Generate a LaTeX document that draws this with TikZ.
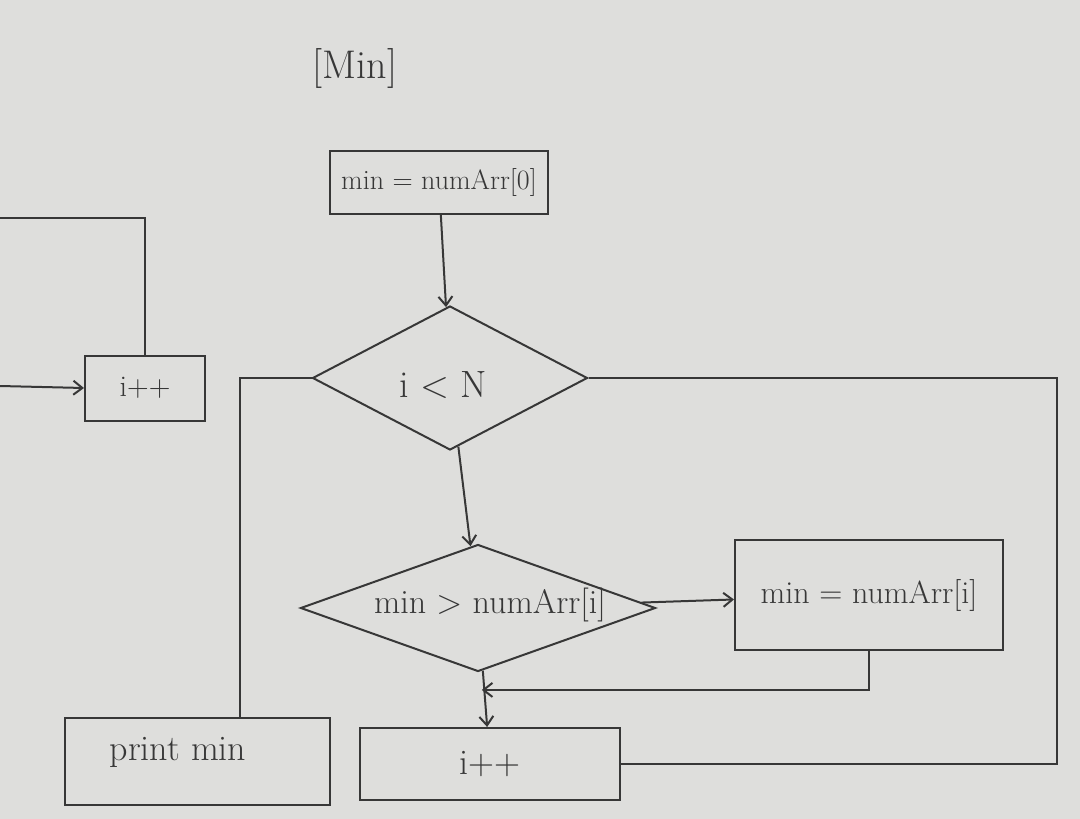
\documentclass[tikz,border=0pt]{standalone}
\usetikzlibrary{shapes.geometric,arrows.meta,calc}
\definecolor{paper}{RGB}{222,222,220}
\definecolor{ink}{RGB}{55,55,55}
\newcommand\myfs[1]{\fontsize{#1}{#1}\selectfont}
\begin{document}
\begin{tikzpicture}[x=1pt,y=-1pt,
  inkline/.style={draw=ink, line width=2pt},
  box/.style={inkline, rectangle, inner sep=0pt, text=ink},
  dia/.style={inkline, diamond, inner sep=0pt},
  lbl/.style={inner sep=0pt, text=ink},
  arr/.style={inkline, -{Straight Barb[length=9pt,width=14pt]}},
  conn/.style={inkline}]
\fill[paper] (0,0) rectangle (1080,819);
\useasboundingbox (0,0) rectangle (1080,819);

\node[lbl, font=\myfs{40}] (title) at (355,68) {[Min]};
\node[box, minimum width=218pt, minimum height=63pt, font=\myfs{28}] (init) at (439,182) {min = numArr[0]};
\node[dia, minimum width=275pt, minimum height=144pt] (cond) at (450,378) {};
\node[lbl, font=\myfs{38}] (condt) at (443,385) {i < N};
\node[dia, minimum width=355pt, minimum height=127pt] (cmp) at (478,608) {};
\node[lbl, font=\myfs{34}] (cmpt) at (490,605) {min > numArr[i]};
\node[box, minimum width=268pt, minimum height=110pt, font=\myfs{32}] (upd) at (869,595) {min = numArr[i]};
\node[box, minimum width=260pt, minimum height=72pt, font=\myfs{36}] (inc) at (490,764) {i++};
\node[box, minimum width=265pt, minimum height=87pt] (prt) at (197,761) {};
\node[lbl, font=\myfs{36}] (prtt) at (178,752) {print min};
\node[box, minimum width=120pt, minimum height=65pt, font=\myfs{30}] (inc2) at (145,388) {i++};

\coordinate (j) at ($(cmp.south)!0.32!(inc.north)$);
\coordinate (rx) at (1057,0);
\coordinate (lx) at (240,0);
\coordinate (ein) at (0,386);
\coordinate (eout) at (0,218);

\draw[arr] (init) -- (cond);
\draw[arr] (cond) -- (cmp);
\draw[arr] (cmp) -- (upd);
\draw[arr] (cmp) -- (inc);
\draw[arr] (upd.south) |- (j);
\draw[conn] (inc.east) -- (inc.east -| rx) |- (cond.east);
\draw[conn] (cond.west) -| (prt.north -| lx);
\draw[arr] (ein) -- (inc2.west);
\draw[conn] (inc2.north) |- (eout);
\end{tikzpicture}
\end{document}
